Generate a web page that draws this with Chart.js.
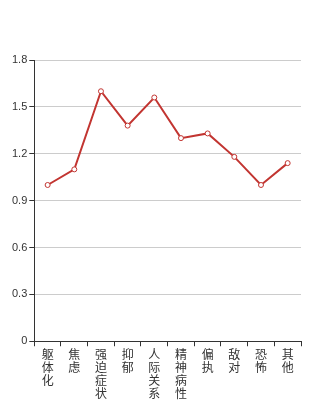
<!DOCTYPE html>
<html>
<head>
<meta charset="utf-8">
<script src="https://cdn.jsdelivr.net/npm/chart.js@4/dist/chart.umd.min.js"></script>
<style>
  html, body { margin: 0; padding: 0; background: #fff; overflow: hidden; }
  #wrap { width: 334px; height: 430px; }
</style>
</head>
<body>
<div id="wrap"><canvas id="chart" width="334" height="430"></canvas></div>
<script>
// categories (SCL-90 factors)
const categories = ['躯体化', '焦虑', '强迫症状', '抑郁', '人际关系敏感', '精神病性', '偏执', '敌对', '恐怖', '其他'];
// factor scores
const scores = [1.0, 1.1, 1.6, 1.38, 1.56, 1.3, 1.33, 1.18, 1.0, 1.14];
// y axis tick labels
const yTicks = ['0', '0.3', '0.6', '0.9', '1.2', '1.5', '1.8'];

const fontFamily = '"Liberation Sans", Arial, "Noto Sans CJK SC", sans-serif';
const axisColor = '#333';

const ctx = document.getElementById('chart').getContext('2d');
new Chart(ctx, {
    type: 'line',
    data: {
        // vertical labels: one character per line
        labels: categories.map(c => c.split('')),
        datasets: [{
            data: scores,
            borderColor: '#c23531',
            borderWidth: 2,
            backgroundColor: '#fff',
            pointBackgroundColor: '#fff',
            pointBorderColor: '#c23531',
            pointBorderWidth: 1,
            pointRadius: 2.5,
            tension: 0,
            fill: false
        }]
    },
    options: {
        responsive: false,
        animation: false,
        layout: {
            padding: { top: 60, left: 10, right: 33, bottom: 0 }
        },
        plugins: {
            legend: { display: false },
            tooltip: { enabled: false }
        },
        scales: {
            x: {
                offset: true,
                grid: {
                    offset: true,
                    drawOnChartArea: false,
                    tickLength: 5,
                    tickColor: axisColor
                },
                border: { color: axisColor, width: 1 },
                ticks: {
                    maxRotation: 0,
                    autoSkip: false,
                    padding: 3,
                    color: '#333',
                    font: { family: fontFamily, size: 12, lineHeight: 1.08 }
                }
            },
            y: {
                min: 0,
                max: 1.8,
                grid: {
                    color: '#ccc',
                    tickLength: 5,
                    tickColor: axisColor
                },
                border: { color: axisColor, width: 1 },
                ticks: {
                    stepSize: 0.3,
                    padding: 2,
                    color: '#333',
                    font: { family: fontFamily, size: 11 },
                    callback: (value, index) => yTicks[index]
                }
            }
        }
    }
});
</script>
</body>
</html>
